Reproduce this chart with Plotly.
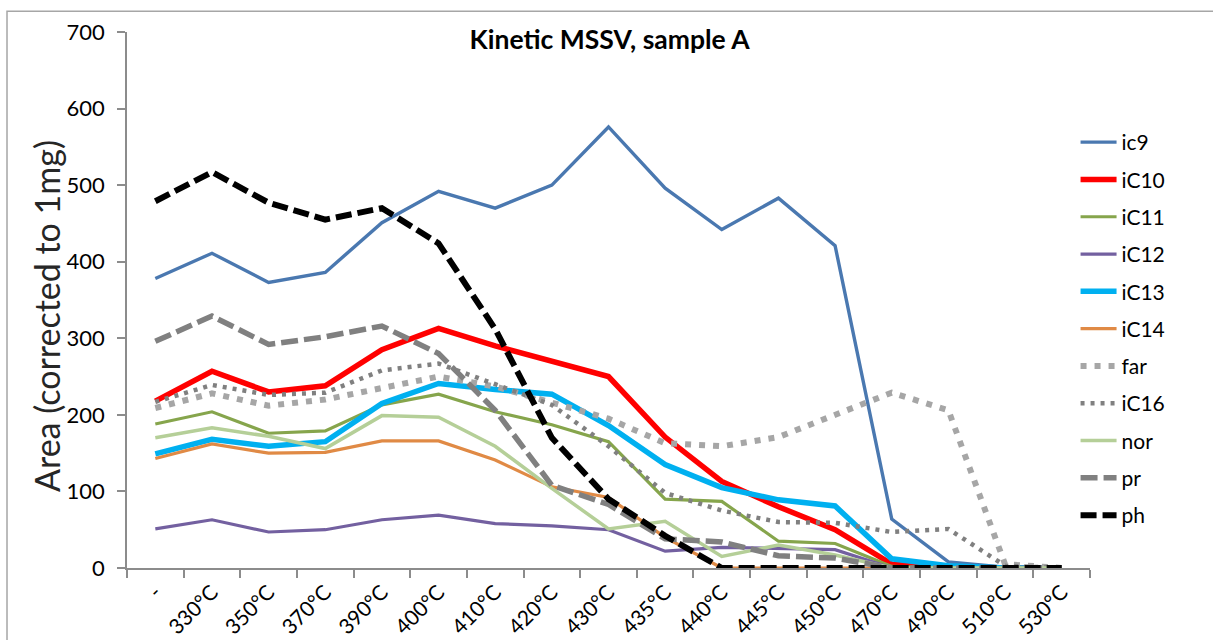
import plotly.graph_objects as go

# Temperature steps of the kinetic MSSV run
categories = ["-", "330°C", "350°C", "370°C", "390°C", "400°C", "410°C", "420°C",
              "430°C", "435°C", "440°C", "445°C", "450°C", "470°C", "490°C",
              "510°C", "530°C"]

# Peak areas (corrected to 1 mg) per compound
ic9 = [378, 411, 373, 386, 451, 492, 470, 500, 576, 496, 442, 483, 421, 64, 8, 1, 0]
iC10 = [218, 257, 230, 238, 285, 313, 290, 270, 250, 171, 113, 80, 50, 5, 0, 0, 0]
iC11 = [188, 204, 176, 179, 213, 227, 204, 187, 165, 90, 87, 35, 32, 2, 0, 0, 0]
iC12 = [51, 63, 47, 50, 63, 69, 58, 55, 50, 22, 27, 26, 24, 0, 0, 0, 0]
iC13 = [149, 168, 159, 165, 215, 241, 233, 227, 186, 135, 105, 89, 81, 12, 3, 0, 0]
iC14 = [143, 162, 150, 151, 166, 166, 141, 106, 92, 40, 0, 0, 0, 0, 0, 0, 0]
far = [209, 228, 212, 220, 235, 250, 237, 215, 195, 163, 159, 171, 200, 229, 206, 5, 0]
iC16 = [217, 239, 226, 229, 258, 267, 240, 213, 159, 98, 75, 60, 59, 47, 51, 3, 0]
nor = [170, 183, 172, 156, 199, 197, 159, 104, 51, 61, 15, 30, 17, 0, 0, 0, 0]
pr = [296, 329, 292, 302, 316, 280, 206, 108, 83, 38, 34, 16, 13, 0, 0, 0, 0]
ph = [479, 517, 477, 455, 470, 424, 312, 170, 90, 42, 0, 0, 0, 0, 0, 0, 0]

series = [
    ("ic9", ic9, "#4a78b0", 3.4, "solid"),
    ("iC10", iC10, "#ff0000", 5.5, "solid"),
    ("iC11", iC11, "#86a54c", 3.2, "solid"),
    ("iC12", iC12, "#7360a0", 3.2, "solid"),
    ("iC13", iC13, "#00b0f0", 5.5, "solid"),
    ("iC14", iC14, "#e08a45", 3.2, "solid"),
    ("far", far, "#a6a6a6", 6, "6px,8px"),
    ("iC16", iC16, "#808080", 4.5, "4px,6px"),
    ("nor", nor, "#b5cf98", 3.5, "solid"),
    ("pr", pr, "#808080", 5.5, "17px,6px"),
    ("ph", ph, "#000000", 6, "16px,6px"),
]

FONT = "Lato"
W, H = 1213, 640
M_L, M_R, M_T, M_B = 127, 123, 32, 72

fig = go.Figure()
for name, vals, color, width, dash in series:
    fig.add_trace(go.Scatter(
        x=categories, y=vals, name=name, mode="lines",
        legendgroup=name,
        line=dict(color=color, width=width, dash=dash),
    ))

axis_color = "#8c8c8c"
plot_w = W - M_L - M_R
plot_h = H - M_T - M_B

fig.update_layout(
    width=W, height=H, autosize=False,
    margin=dict(l=M_L, r=M_R, t=M_T, b=M_B),
    paper_bgcolor="white", plot_bgcolor="white",
    font=dict(family=FONT, color="#000000"),
    title=dict(text="<b>Kinetic MSSV, sample A</b>",
               x=0.5026, xanchor="center", y=1 - 40 / H, yanchor="middle",
               font=dict(family=FONT, size=26.5, color="#000000")),
    xaxis=dict(
        type="category", range=[-0.5, 16.5], automargin=False,
        showgrid=False, zeroline=False,
        showline=True, linecolor=axis_color, linewidth=1.5,
        ticks="outside", tickson="boundaries", ticklen=8,
        tickcolor=axis_color, tickwidth=1.5, ticklabelstandoff=2,
        tickangle=-45, tickfont=dict(family=FONT, size=21, color="#000000"),
    ),
    yaxis=dict(
        range=[0, 700], tickvals=[0, 100, 200, 300, 400, 500, 600, 700],
        automargin=False,
        showgrid=False, zeroline=False,
        showline=True, linecolor=axis_color, linewidth=1.5,
        ticks="outside", ticklen=8, tickcolor=axis_color, tickwidth=1.5,
        ticklabelstandoff=8,
        tickfont=dict(family=FONT, size=22, color="#000000"),
    ),
    legend=dict(
        x=0.985, xanchor="left", y=1 - (122 - M_T) / plot_h, yanchor="top",
        traceorder="grouped", tracegroupgap=7, itemwidth=36,
        font=dict(family=FONT, size=21, color="#000000"),
        bgcolor="rgba(0,0,0,0)",
    ),
    annotations=[dict(
        text="Area (corrected to 1mg)", textangle=-90, showarrow=False,
        xref="paper", yref="paper",
        x=(46 - M_L) / plot_w, y=1 - (316 - M_T) / plot_h,
        xanchor="center", yanchor="middle",
        font=dict(family=FONT, size=34, color="#262626"),
    )],
    shapes=[dict(
        type="rect", xref="paper", yref="paper",
        x0=-0.1246, x1=1.3, y0=-0.4, y1=1.0385,
        line=dict(color="#a6a6a6", width=1.5), fillcolor="rgba(0,0,0,0)",
        layer="below",
    )],
)

fig.write_html("out.html")
